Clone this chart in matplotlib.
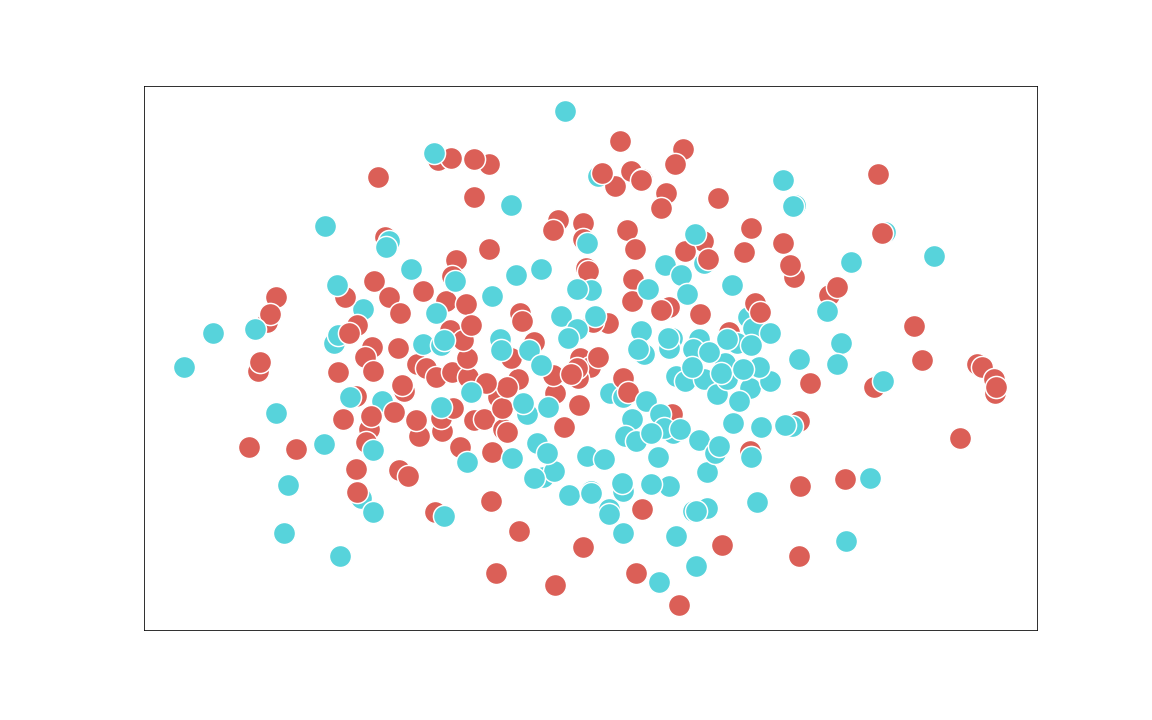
import matplotlib
matplotlib.use("Agg")
import matplotlib.pyplot as plt

# values, later points are drawn on top
teal_low_x = [598, 704, 885, 382, 361, 363, 334, 338, 610, 623, 748, 753]
teal_low_y = [176, 263, 232, 401, 498, 309, 343, 335, 393, 397, 317, 328]

red_x = [438, 451, 489, 474, 378, 385, 345, 374, 389, 423, 276, 267, 270, 357, 349, 400, 372, 365, 398, 373,
         338, 258, 260, 417, 426, 436, 452, 468, 404, 402, 356, 343, 369, 366, 371, 394, 419, 416, 442, 441,
         453, 249, 296, 356, 399, 408, 357, 435, 460, 474, 484, 503, 507, 498, 502, 492, 491, 519, 583, 496,
         555, 636, 679, 722, 642, 564, 579, 555, 553, 518, 511, 507, 486, 467, 446, 466, 450, 463, 471, 456,
         452, 489, 474, 520, 522, 534, 558, 553, 583, 583, 586, 588, 627, 635, 633, 632, 669, 661, 700, 608,
         593, 620, 683, 675, 615, 631, 642, 641, 602, 666, 661, 718, 751, 744, 783, 794, 790, 703, 685, 708,
         755, 760, 729, 829, 837, 878, 882, 914, 922, 977, 982, 810, 874, 995, 994, 996, 960, 799, 750, 800,
         845, 799, 623, 628, 672, 580, 590, 598, 578, 577, 571]
red_y = [160, 158, 164, 159, 177, 237, 297, 281, 297, 291, 297, 322, 314, 325, 333, 313, 347, 357, 348, 371,
         372, 371, 362, 364, 368, 377, 372, 377, 391, 385, 396, 419, 429, 442, 416, 412, 436, 420, 431, 418,
         408, 447, 449, 469, 470, 476, 492, 512, 447, 420, 419, 429, 432, 397, 408, 452, 501, 531, 547, 573,
         585, 573, 605, 545, 509, 427, 405, 393, 375, 379, 358, 387, 383, 358, 301, 304, 330, 340, 325, 260,
         276, 249, 197, 313, 321, 342, 220, 230, 223, 239, 268, 271, 230, 249, 279, 301, 307, 310, 314, 323,
         322, 141, 149, 164, 186, 171, 179, 180, 173, 193, 208, 198, 228, 252, 243, 277, 265, 241, 251, 259,
         303, 312, 332, 295, 287, 174, 233, 326, 360, 364, 367, 383, 387, 393, 379, 387, 438, 421, 451, 486,
         479, 556, 378, 392, 414, 358, 367, 357, 378, 368, 374]

teal_x = [565, 325, 389, 386, 411, 337, 213, 255, 184, 436, 423, 441, 444, 350, 276, 324, 373, 288, 284, 340,
          373, 444, 467, 434, 511, 587, 516, 541, 455, 492, 591, 577, 561, 595, 577, 568, 500, 501, 529, 541,
          471, 527, 523, 548, 441, 512, 537, 543, 554, 534, 547, 569, 591, 591, 587, 604, 646, 660, 632, 625,
          636, 673, 664, 651, 680, 699, 658, 707, 715, 719, 623, 622, 669, 651, 609, 609, 623, 676, 693, 707,
          696, 696, 659, 757, 751, 733, 761, 792, 785, 870, 846, 648, 665, 681, 687, 732, 695, 783, 795, 793,
          851, 934, 827, 841, 837, 799, 883, 641, 644, 638, 672, 669, 668, 699, 693, 737, 751, 770, 676,
          685, 704, 717, 750, 739, 770, 725, 727, 721, 759, 743, 709, 727, 692]
teal_y = [111, 226, 241, 247, 269, 285, 333, 329, 367, 313, 344, 345, 340, 397, 413, 444, 450, 485, 533, 556,
          512, 516, 462, 153, 205, 243, 275, 269, 281, 296, 290, 289, 316, 316, 329, 338, 339, 350, 350, 365,
          392, 414, 403, 407, 407, 458, 443, 477, 471, 478, 453, 495, 491, 493, 456, 459, 401, 414, 419, 436,
          441, 433, 428, 433, 429, 440, 457, 472, 453, 446, 491, 483, 486, 484, 509, 514, 533, 536, 511, 508,
          511, 566, 582, 502, 457, 423, 427, 426, 425, 478, 541, 289, 265, 275, 294, 285, 234, 180, 205, 206,
          262, 256, 311, 343, 364, 359, 381, 331, 354, 349, 338, 348, 338, 339, 349, 343, 345, 333, 376,
          381, 379, 394, 388, 401, 381, 363, 379, 373, 367, 369, 352, 339, 367]

RED = "#db5f57"
TEAL = "#57d3db"

fig = plt.figure(figsize=(16, 10), dpi=72)
ax = fig.add_axes([144 / 1152, 90 / 720, 893 / 1152, 544 / 720])

ax.scatter(teal_low_x, teal_low_y, s=490, color=TEAL, edgecolor="white", linewidth=1.5, zorder=2)
ax.scatter(red_x, red_y, s=490, color=RED, edgecolor="white", linewidth=1.5, zorder=3)
ax.scatter(teal_x, teal_y, s=490, color=TEAL, edgecolor="white", linewidth=1.5, zorder=4)

ax.set_xlim(144.3, 1037.3)
ax.set_ylim(630.2, 86.2)
ax.set_xticks([])
ax.set_yticks([])

fig.savefig("out.png", dpi=72)
